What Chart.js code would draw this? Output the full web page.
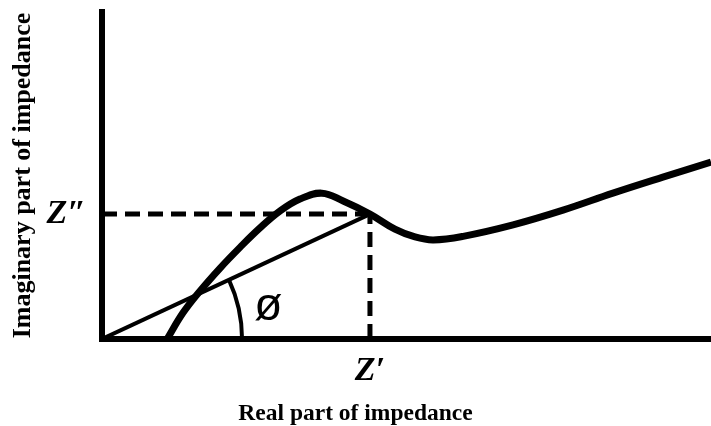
<!DOCTYPE html>
<html>
<head>
<meta charset="utf-8">
<script src="https://cdn.jsdelivr.net/npm/chart.js@4/dist/chart.umd.min.js"></script>
<style>
  html, body { margin: 0; padding: 0; background: #ffffff; }
  #wrap { width: 711px; height: 426px; }
</style>
</head>
<body>
<div id="wrap"><canvas id="nyquist" width="711" height="426"></canvas></div>
<script>
// Impedance spectrum (Nyquist-type curve), arbitrary units
const realPart = [1.07, 1.33, 1.61, 1.94, 2.27, 2.59, 2.92, 3.25, 3.61, 3.96, 4.40, 4.81, 5.14, 5.44, 5.93, 6.75, 7.57, 8.39, 9.21, 10.0];
const imagPart = [0.00, 0.80, 1.47, 2.17, 2.81, 3.39, 3.91, 4.28, 4.46, 4.22, 3.82, 3.36, 3.12, 3.03, 3.14, 3.49, 3.94, 4.46, 4.95, 5.41];

// Marked operating point (Z', Z'') on the curve
const zReal = 4.40;
const zImag = 3.82;

// Phase angle arc radius (in real-axis units) and symbol position
const arcRadius = 2.3;
const phiLabel = { x: 2.73, y: 0.98, text: 'ø' };

// Axis ranges and labels
const xRange = [0, 10];
const yRange = [0, 10];
const xTickLabel = 'Z′';
const yTickLabel = 'Z″';
const xTitle = 'Real part of impedance';
const yTitle = 'Imaginary part of impedance';

const curvePoints = realPart.map((x, i) => ({ x: x, y: imagPart[i] }));

const serif = '"Liberation Serif", "Times New Roman", serif';

const phasePlugin = {
  id: 'phaseAngle',
  afterDatasetsDraw(chart) {
    const { ctx, scales } = chart;
    const x = scales.x, y = scales.y;
    const ox = x.getPixelForValue(0), oy = y.getPixelForValue(0);
    const px = x.getPixelForValue(zReal), py = y.getPixelForValue(zImag);
    const r = x.getPixelForValue(arcRadius) - ox;
    const theta = Math.atan2(oy - py, px - ox);
    ctx.save();
    ctx.strokeStyle = '#000';
    ctx.lineWidth = 4;
    ctx.beginPath();
    ctx.arc(ox, oy, r, -theta, 0);
    ctx.stroke();
    ctx.fillStyle = '#000';
    ctx.font = '46px "Liberation Sans", Arial, sans-serif';
    ctx.textAlign = 'center';
    ctx.textBaseline = 'middle';
    ctx.fillText(phiLabel.text, x.getPixelForValue(phiLabel.x), y.getPixelForValue(phiLabel.y));
    ctx.restore();
  }
};

new Chart(document.getElementById('nyquist'), {
  type: 'line',
  data: {
    datasets: [
      {
        label: 'Impedance',
        data: curvePoints,
        borderColor: '#000',
        borderWidth: 7,
        pointRadius: 0,
        tension: 0.4,
        clip: 0
      },
      {
        label: 'Phase line',
        data: [{ x: 0, y: 0 }, { x: zReal, y: zImag }],
        borderColor: '#000',
        borderWidth: 4,
        pointRadius: 0,
        clip: 0
      },
      {
        label: 'Imaginary level',
        data: [{ x: 0, y: zImag }, { x: zReal, y: zImag }],
        borderColor: '#000',
        borderWidth: 5,
        borderDash: [15, 8],
        pointRadius: 0,
        clip: 0
      },
      {
        label: 'Real level',
        data: [{ x: zReal, y: 0 }, { x: zReal, y: zImag }],
        borderColor: '#000',
        borderWidth: 5,
        borderDash: [15, 8],
        pointRadius: 0,
        clip: 0
      }
    ]
  },
  options: {
    responsive: false,
    animation: false,
    layout: { padding: { top: 12, left: 0, right: 0, bottom: 0 } },
    plugins: {
      legend: { display: false },
      tooltip: { enabled: false },
      title: {
        display: true,
        position: 'bottom',
        text: xTitle,
        color: '#000',
        font: { family: serif, size: 23.5, weight: 'bold', lineHeight: 1.0 },
        padding: { top: 0, bottom: 0 }
      }
    },
    scales: {
      x: {
        type: 'linear',
        min: xRange[0],
        max: xRange[1],
        grid: { display: false, drawTicks: false },
        border: { display: true, color: '#000', width: 6 },
        afterBuildTicks(scale) { scale.ticks = [{ value: zReal }]; },
        afterFit(scale) {
          scale.height = 63.5;
          scale.paddingLeft = 0;
          scale.paddingRight = 0;
        },
        ticks: {
          autoSkip: false,
          maxRotation: 0,
          padding: 12,
          color: '#000',
          font: { family: serif, size: 34, weight: 'bold', style: 'italic' },
          callback: () => xTickLabel
        }
      },
      y: {
        type: 'linear',
        min: yRange[0],
        max: yRange[1],
        grid: { display: false, drawTicks: false },
        border: { display: true, color: '#000', width: 6 },
        afterBuildTicks(scale) { scale.ticks = [{ value: zImag }]; },
        afterFit(scale) {
          scale.width = 102;
          scale.paddingTop = 0;
          scale.paddingBottom = 0;
        },
        ticks: {
          autoSkip: false,
          padding: 16,
          color: '#000',
          font: { family: serif, size: 34, weight: 'bold', style: 'italic' },
          callback: () => yTickLabel
        },
        title: {
          display: true,
          text: yTitle,
          color: '#000',
          font: { family: serif, size: 26, weight: 'bold' },
          padding: { top: 8, bottom: 0 }
        }
      }
    }
  },
  plugins: [phasePlugin]
});
</script>
</body>
</html>
